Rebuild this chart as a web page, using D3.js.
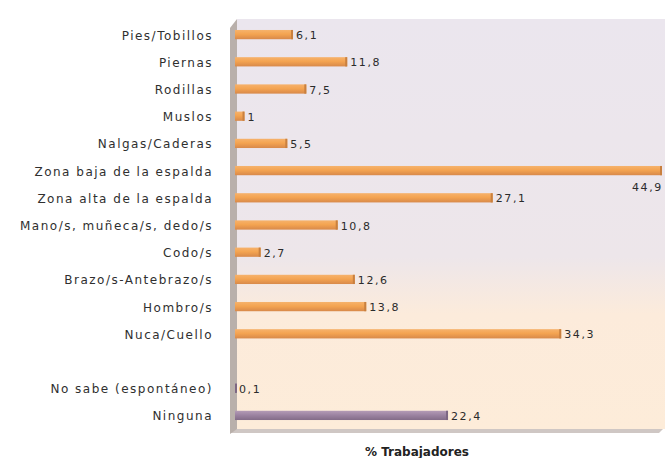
<!DOCTYPE html>
<html>
<head>
<meta charset="utf-8">
<script src="https://cdn.jsdelivr.net/npm/d3@7"></script>
<style>
  html, body { margin: 0; padding: 0; background: #ffffff; }
  svg { display: block; }
</style>
</head>
<body>
<svg id="chart" width="665" height="458"></svg>
<script>
// ---- data ----
const categories = [
  "Pies/Tobillos", "Piernas", "Rodillas", "Muslos", "Nalgas/Caderas",
  "Zona baja de la espalda", "Zona alta de la espalda",
  "Mano/s, muñeca/s, dedo/s", "Codo/s", "Brazo/s-Antebrazo/s",
  "Hombro/s", "Nuca/Cuello", "", "No sabe (espontáneo)", "Ninguna"
];
const values = [6.1, 11.8, 7.5, 1, 5.5, 44.9, 27.1, 10.8, 2.7, 12.6, 13.8, 34.3, null, 0.1, 22.4];
const groups = ["body", "body", "body", "body", "body", "body", "body", "body", "body", "body", "body", "body", "none", "other", "other"];
const axisTitle = "% Trabajadores";

// ---- layout ----
const svg = d3.select("#chart");
const plot = { left: 237, right: 663, top: 21, bottom: 429 };
const x = d3.scaleLinear().domain([0, 44.9]).range([235, 662]);
const y = d3.scaleBand().domain(d3.range(categories.length)).range([plot.top, plot.bottom]).paddingInner(0.66).paddingOuter(0.33);

const defs = svg.append("defs");
const bg = defs.append("linearGradient").attr("id", "bg").attr("x1", 0).attr("y1", 0).attr("x2", 0).attr("y2", 1);
bg.append("stop").attr("offset", "0%").attr("stop-color", "#ebe6ee");
bg.append("stop").attr("offset", "58%").attr("stop-color", "#ede6ea");
bg.append("stop").attr("offset", "72%").attr("stop-color", "#fcebdb");
bg.append("stop").attr("offset", "100%").attr("stop-color", "#fdecd9");

const og = defs.append("linearGradient").attr("id", "orange").attr("x1", 0).attr("y1", 0).attr("x2", 0).attr("y2", 1);
og.append("stop").attr("offset", "0%").attr("stop-color", "#f6b26c");
og.append("stop").attr("offset", "45%").attr("stop-color", "#f4a451");
og.append("stop").attr("offset", "100%").attr("stop-color", "#d8894a");
const pg = defs.append("linearGradient").attr("id", "purple").attr("x1", 0).attr("y1", 0).attr("x2", 0).attr("y2", 1);
pg.append("stop").attr("offset", "0%").attr("stop-color", "#b49bb6");
pg.append("stop").attr("offset", "45%").attr("stop-color", "#9d84a2");
pg.append("stop").attr("offset", "100%").attr("stop-color", "#836c88");

// plot background
svg.append("rect").attr("x", plot.left).attr("y", plot.top - 2).attr("width", plot.right - plot.left + 2).attr("height", plot.bottom - plot.top + 2)
  .attr("fill", "url(#bg)");
// floor shadow
svg.append("path").attr("d", `M${230},${plot.bottom + 4} L${plot.right - 4},${plot.bottom + 4} L${plot.right},${plot.bottom} L${236},${plot.bottom} Z`)
  .attr("fill", "#cfc7c4");
// left wall
svg.append("path").attr("d", `M230,${plot.top + 7} L237,${plot.top - 2} L237,${plot.bottom} L230,${plot.bottom + 5} Z`)
  .attr("fill", "#b9b0ab");

// bars
const bars = svg.append("g");
categories.forEach((c, i) => {
  const v = values[i];
  if (v == null) return;
  const fill = groups[i] === "other" ? "url(#purple)" : "url(#orange)";
  const cap = groups[i] === "other" ? "#7d6783" : "#c9803f";
  const y0 = y(i), h = y.bandwidth();
  const xe = x(v);
  bars.append("rect").attr("x", x(0)).attr("y", y0).attr("width", Math.max(1.5, xe - x(0))).attr("height", h).attr("fill", fill);
  bars.append("rect").attr("x", Math.max(x(0), xe - 2)).attr("y", y0).attr("width", 2).attr("height", h).attr("fill", cap);
});

// value labels
const fmt = v => String(v).replace(".", ",");
categories.forEach((c, i) => {
  const v = values[i];
  if (v == null) return;
  const yc = y(i) + y.bandwidth() / 2;
  const t = svg.append("text").text(fmt(v))
    .attr("font-family", "DejaVu Sans").attr("font-size", 11).attr("letter-spacing", 1.6)
    .attr("fill", "#2b2b2b").attr("dominant-baseline", "central");
  if (x(v) + 35 > 665) {
    t.attr("x", 632).attr("y", yc + 17);
  } else {
    t.attr("x", x(v) + 3).attr("y", yc + 1);
  }
});

// category labels
categories.forEach((c, i) => {
  if (!c) return;
  svg.append("text").text(c)
    .attr("x", 213).attr("y", y(i) + y.bandwidth() / 2 + 1)
    .attr("text-anchor", "end").attr("dominant-baseline", "central")
    .attr("font-family", "DejaVu Sans").attr("font-size", 12).attr("letter-spacing", 1.5)
    .attr("fill", "#2f2f2f");
});

// axis title
svg.append("text").text(axisTitle)
  .attr("x", 417).attr("y", 452).attr("text-anchor", "middle").attr("dominant-baseline", "central")
  .attr("font-family", "DejaVu Sans").attr("font-size", 12).attr("font-weight", "bold")
  .attr("fill", "#222");
</script>
</body>
</html>
